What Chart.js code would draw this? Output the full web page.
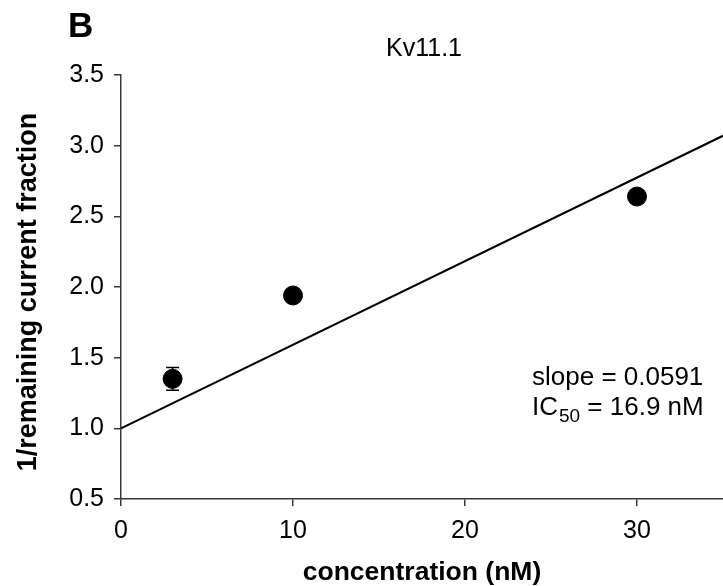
<!DOCTYPE html>
<html>
<head>
<meta charset="utf-8">
<script src="https://cdn.jsdelivr.net/npm/chart.js@4.4.0/dist/chart.umd.min.js"></script>
<style>
  html, body { margin: 0; padding: 0; background: #fff; overflow: hidden; }
  #wrap { width: 723px; height: 586px; }
</style>
</head>
<body>
<div id="wrap"><canvas id="chart" width="723" height="586"></canvas></div>
<script>
// data
const concX = [3, 10, 30];
const invFrac = [1.35, 1.94, 2.64];
const invFracErr = [0.08, 0.02, 0.02];

// regression line (slope 0.0591, intercept 1)
const fitX = [0, 35];
const fitY = [1.0, 3.07];

const xTicks = [0, 10, 20, 30];
const yTicks = [0.5, 1.0, 1.5, 2.0, 2.5, 3.0, 3.5];

const FONT = '"Liberation Sans", Arial, sans-serif';
const AXIS = '#3a3a3a';

// error bars, drawn through the scales
const errorBars = {
  id: 'errorBars',
  afterDatasetsDraw(chart) {
    const { ctx, scales: { x, y } } = chart;
    ctx.save();
    ctx.strokeStyle = '#000';
    ctx.lineWidth = 1.5;
    concX.forEach((cx, i) => {
      const px = x.getPixelForValue(cx);
      const top = y.getPixelForValue(invFrac[i] + invFracErr[i]);
      const bot = y.getPixelForValue(invFrac[i] - invFracErr[i]);
      ctx.beginPath();
      ctx.moveTo(px, top); ctx.lineTo(px, bot);
      ctx.moveTo(px - 6.5, top); ctx.lineTo(px + 6.5, top);
      ctx.moveTo(px - 6.5, bot); ctx.lineTo(px + 6.5, bot);
      ctx.stroke();
    });
    ctx.restore();
  }
};

// panel letter, title, axis titles, annotation
const texts = {
  id: 'texts',
  afterDraw(chart) {
    const { ctx, chartArea } = chart;
    ctx.save();
    ctx.fillStyle = '#000';
    ctx.textBaseline = 'alphabetic';

    ctx.font = `bold 35px ${FONT}`;
    ctx.textAlign = 'left';
    ctx.fillText('B', 68, 37);

    ctx.font = `25px ${FONT}`;
    ctx.textAlign = 'center';
    ctx.fillText('Kv11.1', 424, 56);

    ctx.font = `bold 26.5px ${FONT}`;
    ctx.fillText('concentration (nM)', 422, 580);

    ctx.save();
    ctx.translate(36, 292);
    ctx.rotate(-Math.PI / 2);
    ctx.font = `bold 27px ${FONT}`;
    ctx.fillText('1/remaining current fraction', 0, 0);
    ctx.restore();

    ctx.textAlign = 'left';
    ctx.font = `26px ${FONT}`;
    ctx.fillText('slope = 0.0591', 532, 385);
    let xx = 532;
    ctx.fillText('IC', xx, 415);
    xx += ctx.measureText('IC').width;
    ctx.font = `19px ${FONT}`;
    ctx.fillText('50', xx + 1, 422);
    xx += ctx.measureText('50').width + 1;
    ctx.font = `26px ${FONT}`;
    ctx.fillText(' = 16.9 nM', xx, 415);
    ctx.restore();
  }
};

new Chart(document.getElementById('chart'), {
  data: {
    datasets: [
      {
        type: 'line',
        data: fitX.map((v, i) => ({ x: v, y: fitY[i] })),
        borderColor: '#000',
        borderWidth: 2,
        pointRadius: 0,
        fill: false,
        tension: 0
      },
      {
        type: 'scatter',
        data: concX.map((v, i) => ({ x: v, y: invFrac[i] })),
        backgroundColor: '#000',
        borderColor: '#000',
        pointRadius: 9.5,
        pointHoverRadius: 9.5
      }
    ]
  },
  options: {
    responsive: false,
    animation: false,
    events: [],
    layout: { autoPadding: false, padding: { top: 75, left: 0, right: 0, bottom: 0 } },
    plugins: { legend: { display: false }, tooltip: { enabled: false } },
    scales: {
      x: {
        type: 'linear',
        min: 0,
        max: 35,
        afterBuildTicks: (s) => { s.ticks = xTicks.map(v => ({ value: v })); },
        afterFit: (s) => { s.height = 87; s.paddingLeft = 0; s.paddingRight = 0; },
        border: { color: AXIS, width: 1.5 },
        grid: { drawOnChartArea: false, drawTicks: true, tickLength: 7, color: AXIS, lineWidth: 1.5 },
        ticks: { color: '#000', padding: 10, font: { family: FONT, size: 25 } }
      },
      y: {
        type: 'linear',
        min: 0.5,
        max: 3.5,
        afterBuildTicks: (s) => { s.ticks = yTicks.map(v => ({ value: v })); },
        afterFit: (s) => { s.width = 121; s.paddingTop = 0; s.paddingBottom = 0; },
        border: { color: AXIS, width: 1.5 },
        grid: { drawOnChartArea: false, drawTicks: true, tickLength: 7, color: AXIS, lineWidth: 1.5 },
        ticks: { color: '#000', padding: 10, font: { family: FONT, size: 25 }, callback: v => Number(v).toFixed(1) }
      }
    }
  },
  plugins: [errorBars, texts]
});
</script>
</body>
</html>
